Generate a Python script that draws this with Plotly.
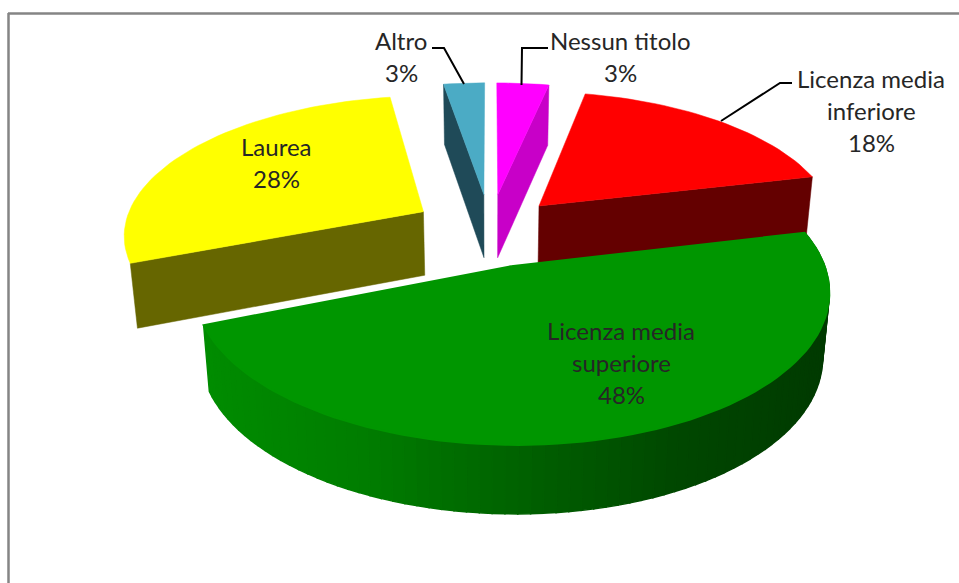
import math
import plotly.graph_objects as go

# --- data -------------------------------------------------------------
categories = ["Nessun titolo", "Licenza media inferiore", "Licenza media superiore", "Laurea", "Altro"]
values = [3.3, 18.0, 47.7, 28.4, 2.6]
label_lines = [["Nessun titolo"], ["Licenza media", "inferiore"], ["Licenza media", "superiore"], ["Laurea"], ["Altro"]]

# --- style / layout ---------------------------------------------------
top_colors = ["#ff00ff", "#ff0000", "#009600", "#ffff00", "#4babc5"]
wall_colors = ["#c800c8", "#640000", None, "#666600", "#1f4a58"]
wall_edge = ["end", "end", None, "start", "start"]
explode = [0.26, 0.25, 0.30, 0.26, 0.26]
nudge = [(0, 0), (-2, 1), (-7, -4), (0, 0), (0, 0)]
label_pos = [(620, 40), (871, 78), (621, 330), (276, 146), (401, 40)]
leaders = [
    ([548, 522, 521.5], [48, 48, 85]),
    ([792, 780, 721], [83, 83, 121]),
    ([432, 444, 464], [48, 48, 84]),
]
CX, CY, RX, RY, P = 490, 229, 300, 138, 0.15
LINE_H = 32
GREEN_STOPS = [(0, 140, 0), (0, 125, 0), (0, 98, 0), (0, 72, 0), (0, 58, 0)]


def project(X, Y, off=(0, 0)):
    w = 1 + P * Y
    return CX + RX * X / w + off[0], CY - RY * Y / w + off[1], w


def lower(sx, sy, w):
    depth = 64 / w ** 0.35
    return CX + (sx - CX) * 0.98, sy + depth


def lerp_color(t, stops):
    t = max(0, min(1, t))
    n = len(stops) - 1
    i = min(int(t * n), n - 1)
    f = t * n - i
    a, b = stops[i], stops[i + 1]
    return "rgb({},{},{})".format(*[round(a[k] + (b[k] - a[k]) * f) for k in range(3)])


fig = go.Figure()


def poly(pts, color, lw=0.5):
    fig.add_trace(go.Scatter(
        x=[p[0] for p in pts] + [pts[0][0]],
        y=[p[1] for p in pts] + [pts[0][1]],
        mode="lines", fill="toself", fillcolor=color,
        line=dict(color=color, width=lw), hoverinfo="skip", showlegend=False,
    ))


total = sum(values)
angles = []
acc = 0
for v in values:
    angles.append((acc / total * 360, (acc + v) / total * 360))
    acc += v

for i in [4, 0, 3, 1, 2]:
    a0, a1 = angles[i]
    mid = math.radians((a0 + a1) / 2)
    ox, oy = math.sin(mid) * explode[i], math.cos(mid) * explode[i]
    ax, ay, aw = project(ox, oy, nudge[i])
    steps = max(6, int((a1 - a0) / 2))
    rim = []
    for s in range(steps + 1):
        t = math.radians(a0 + (a1 - a0) * s / steps)
        rim.append(project(ox + math.sin(t), oy + math.cos(t), nudge[i]))
    # radial wall
    if wall_edge[i]:
        r = rim[0] if wall_edge[i] == "start" else rim[-1]
        poly([(ax, ay), r[:2], lower(*r), lower(ax, ay, aw)], wall_colors[i])
    # curved outer wall of the large front slice
    if i == 2:
        for s in range(steps):
            p, q = rim[s], rim[s + 1]
            colour = lerp_color(((p[0] + q[0]) / 2 - 205) / 623, GREEN_STOPS)
            poly([p[:2], q[:2], lower(*q), lower(*p)], colour, lw=1.5)
    poly([(ax, ay)] + [r[:2] for r in rim], top_colors[i], lw=2 if i == 2 else 0.5)

for xs, ys in leaders:
    fig.add_trace(go.Scatter(x=xs, y=ys, mode="lines", line=dict(color="black", width=2),
                             hoverinfo="skip", showlegend=False))

annotations = []
for lines, v, (x, y) in zip(label_lines, values, label_pos):
    for k, txt in enumerate(lines + [f"{round(v)}%"]):
        annotations.append(dict(x=x, y=y + k * LINE_H, text=txt, showarrow=False,
                                xref="x", yref="y", xanchor="center", yanchor="middle",
                                font=dict(family="Lato", size=24, color="#262626")))

fig.update_layout(
    width=959, height=583, margin=dict(l=0, r=0, t=0, b=0),
    paper_bgcolor="white", plot_bgcolor="white", showlegend=False,
    xaxis=dict(range=[0, 959], visible=False, fixedrange=True),
    yaxis=dict(range=[583, 0], visible=False, fixedrange=True),
    annotations=annotations,
    shapes=[
        dict(type="line", xref="x", yref="y", x0=8, x1=959, y0=13.5, y1=13.5, line=dict(color="#858585", width=2.5)),
        dict(type="line", xref="x", yref="y", x0=8.5, x1=8.5, y0=13, y1=583, line=dict(color="#858585", width=2.5)),
    ],
)
fig.write_html("out.html", config={"displayModeBar": False},
               post_script="document.body.style.margin='0';")
